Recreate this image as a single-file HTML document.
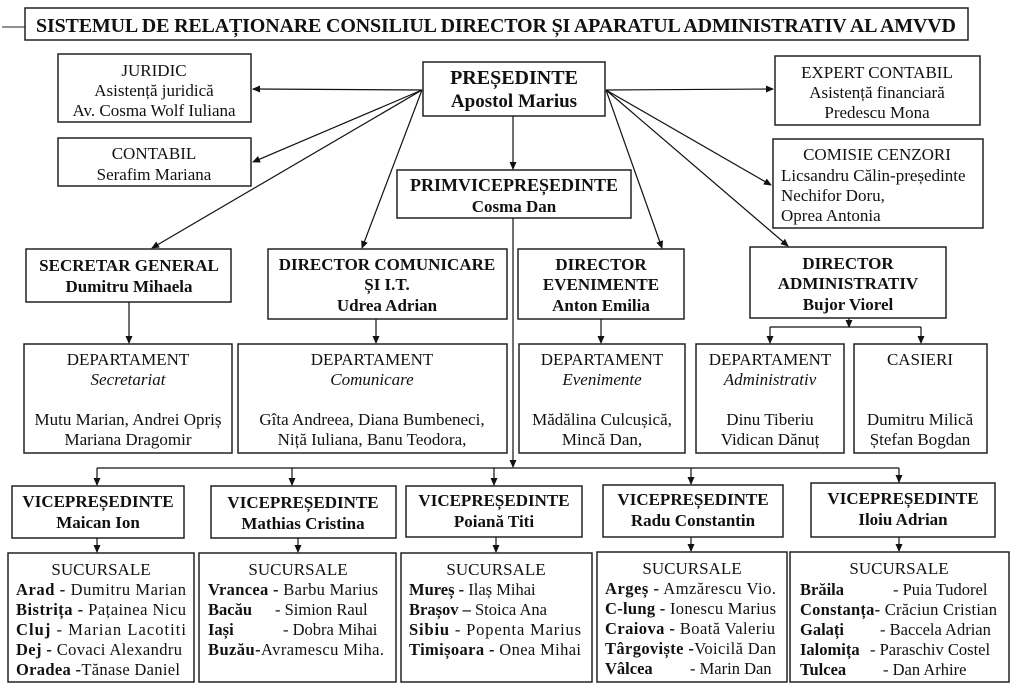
<!DOCTYPE html>
<html><head><meta charset="utf-8"><style>
body{margin:0;background:#fff;}
svg{display:block}
text{font-family:"Liberation Serif",serif;fill:#111;}
.b{font-weight:bold}
.s{font-family:"Liberation Sans",sans-serif}
</style></head><body>
<svg width="1024" height="690" viewBox="0 0 1024 690" xmlns="http://www.w3.org/2000/svg">
<defs><marker id="a" markerWidth="8" markerHeight="8" refX="7" refY="4" orient="auto" markerUnits="userSpaceOnUse"><path d="M0,0.5 L8,4 L0,7.5 z" fill="#111"/></marker></defs>
<g fill="none" stroke="#222" stroke-width="1.5">
<line x1="2" y1="27" x2="25" y2="27" stroke-width="1"/>
<rect x="25" y="8" width="943" height="32"/>
<rect x="58" y="54" width="193" height="68"/>
<rect x="58" y="138" width="193" height="48"/>
<rect x="423" y="62" width="182" height="54"/>
<rect x="775" y="56" width="205" height="69"/>
<rect x="773" y="139" width="210" height="89"/>
<rect x="397" y="170" width="234" height="48"/>
<rect x="26" y="249" width="205" height="53"/>
<rect x="268" y="249" width="239" height="70"/>
<rect x="518" y="249" width="166" height="70"/>
<rect x="750" y="247" width="196" height="71"/>
<rect x="24" y="344" width="208" height="109"/>
<rect x="238" y="344" width="269" height="109"/>
<rect x="519" y="344" width="166" height="109"/>
<rect x="696" y="344" width="148" height="109"/>
<rect x="854" y="344" width="133" height="109"/>
<rect x="12" y="486" width="172" height="52"/>
<rect x="211" y="486" width="185" height="52"/>
<rect x="406" y="486" width="176" height="51"/>
<rect x="603" y="485" width="180" height="52"/>
<rect x="811" y="483" width="184" height="54"/>
<rect x="8" y="553" width="186" height="129"/>
<rect x="199" y="553" width="197" height="129"/>
<rect x="401" y="553" width="191" height="129"/>
<rect x="597" y="552" width="190" height="130"/>
<rect x="790" y="552" width="219" height="130"/>
</g>
<g stroke="#111" stroke-width="1.2" fill="none" marker-end="url(#a)">
<line x1="422" y1="90" x2="253" y2="89"/>
<line x1="422" y1="90" x2="253" y2="162"/>
<line x1="422" y1="90" x2="152" y2="248"/>
<line x1="422" y1="90" x2="362" y2="248"/>
<line x1="606" y1="90" x2="773" y2="89"/>
<line x1="606" y1="90" x2="771" y2="185"/>
<line x1="606" y1="90" x2="662" y2="248"/>
<line x1="606" y1="90" x2="788" y2="246"/>
<line x1="513" y1="116" x2="513" y2="169"/>
<line x1="513" y1="218" x2="513" y2="467"/>
<line x1="129" y1="302" x2="129" y2="343"/>
<line x1="376" y1="319" x2="376" y2="343"/>
<line x1="601" y1="319" x2="601" y2="343"/>
<line x1="849" y1="318" x2="849" y2="327"/>
<line x1="770" y1="327" x2="770" y2="343"/>
<line x1="921" y1="327" x2="921" y2="343"/>
<line x1="97" y1="468" x2="97" y2="485"/>
<line x1="292" y1="468" x2="292" y2="485"/>
<line x1="494" y1="468" x2="494" y2="485"/>
<line x1="691" y1="468" x2="691" y2="484"/>
<line x1="899" y1="468" x2="899" y2="482"/>
<line x1="97" y1="538" x2="97" y2="552"/>
<line x1="298" y1="538" x2="298" y2="552"/>
<line x1="496" y1="537" x2="496" y2="552"/>
<line x1="691" y1="537" x2="691" y2="551"/>
<line x1="899" y1="537" x2="899" y2="551"/>
</g>
<g stroke="#111" stroke-width="1.2">
<line x1="770" y1="327" x2="921" y2="327"/>
<line x1="97" y1="468" x2="899" y2="468"/>
</g>
<text class="b" x="496" y="32" font-size="20" text-anchor="middle" textLength="920">SISTEMUL DE RELAȚIONARE CONSILIUL DIRECTOR ȘI APARATUL ADMINISTRATIV AL AMVVD</text>
<g font-size="17" text-anchor="middle">
<text x="154" y="76">JURIDIC</text><text x="154" y="96">Asistență juridică</text><text x="154" y="116">Av. Cosma Wolf Iuliana</text>
<text x="154" y="159">CONTABIL</text><text x="154" y="180">Serafim Mariana</text>
<text x="877" y="78">EXPERT CONTABIL</text><text x="877" y="98">Asistență financiară</text><text x="877" y="118">Predescu Mona</text>
<text x="877" y="160">COMISIE CENZORI</text>
<text x="781" y="181" text-anchor="start">Licsandru Călin-președinte</text>
<text x="781" y="201" text-anchor="start">Nechifor Doru,</text>
<text x="781" y="221" text-anchor="start">Oprea Antonia</text>
</g>
<g class="b" text-anchor="middle">
<text class="b" x="514" y="84" font-size="20">PREȘEDINTE</text><text class="b" x="514" y="107" font-size="19">Apostol Marius</text>
<text class="b" x="514" y="191" font-size="18">PRIMVICEPREȘEDINTE</text><text class="b" x="514" y="212" font-size="17">Cosma Dan</text>
<text class="b" x="129" y="271" font-size="17">SECRETAR GENERAL</text><text class="b" x="129" y="292" font-size="17">Dumitru Mihaela</text>
<text class="b" x="387" y="270" font-size="17">DIRECTOR COMUNICARE</text><text class="b" x="387" y="290" font-size="17">ȘI I.T.</text><text class="b" x="387" y="311" font-size="17">Udrea Adrian</text>
<text class="b" x="601" y="270" font-size="17">DIRECTOR</text><text class="b" x="601" y="290" font-size="17">EVENIMENTE</text><text class="b" x="601" y="311" font-size="17">Anton Emilia</text>
<text class="b" x="848" y="269" font-size="17">DIRECTOR</text><text class="b" x="848" y="289" font-size="17">ADMINISTRATIV</text><text class="b" x="848" y="310" font-size="17">Bujor Viorel</text>
</g>
<g font-size="17" text-anchor="middle">
<text x="128" y="365">DEPARTAMENT</text><text x="128" y="385" font-style="italic">Secretariat</text><text x="128" y="425">Mutu Marian, Andrei Opriș</text><text x="128" y="445">Mariana Dragomir</text>
<text x="372" y="365">DEPARTAMENT</text><text x="372" y="385" font-style="italic">Comunicare</text><text x="372" y="425">Gîta Andreea, Diana Bumbeneci,</text><text x="372" y="445">Niță Iuliana, Banu Teodora,</text>
<text x="602" y="365">DEPARTAMENT</text><text x="602" y="385" font-style="italic">Evenimente</text><text x="602" y="425">Mădălina Culcușică,</text><text x="602" y="445">Mincă Dan,</text>
<text x="770" y="365">DEPARTAMENT</text><text x="770" y="385" font-style="italic">Administrativ</text><text x="770" y="425">Dinu Tiberiu</text><text x="770" y="445">Vidican Dănuț</text>
<text x="920" y="365">CASIERI</text><text x="920" y="425">Dumitru Milică</text><text x="920" y="445">Ștefan Bogdan</text>
</g>
<g text-anchor="middle" font-size="17">
<text class="b" x="98" y="507">VICEPREȘEDINTE</text><text class="b" x="98" y="528">Maican Ion</text>
<text class="b" x="303" y="508">VICEPREȘEDINTE</text><text class="b" x="303" y="529">Mathias Cristina</text>
<text class="b" x="494" y="506">VICEPREȘEDINTE</text><text class="b" x="494" y="527">Poiană Titi</text>
<text class="b" x="693" y="505">VICEPREȘEDINTE</text><text class="b" x="693" y="526">Radu Constantin</text>
<text class="b" x="903" y="504">VICEPREȘEDINTE</text><text class="b" x="903" y="525">Iloiu Adrian</text>
<text x="101" y="575">SUCURSALE</text><text x="298" y="575">SUCURSALE</text><text x="496" y="575">SUCURSALE</text><text x="692" y="574">SUCURSALE</text><text x="899" y="574">SUCURSALE</text>
</g>
<g font-size="16.5">
<text x="16" y="595" textLength="170"><tspan class="b">Arad -</tspan> Dumitru Marian</text>
<text x="16" y="615" textLength="170"><tspan class="b">Bistrița -</tspan> Pațainea Nicu</text>
<text x="16" y="635" textLength="170"><tspan class="b">Cluj</tspan>    - Marian Lacotiti</text>
<text x="16" y="655" textLength="166"><tspan class="b">Dej -</tspan> Covaci Alexandru</text>
<text x="16" y="675" textLength="164"><tspan class="b">Oradea -</tspan>Tănase Daniel</text>
<text x="208" y="595" textLength="170"><tspan class="b">Vrancea -</tspan> Barbu Marius</text>
<text x="208" y="615"><tspan class="b">Bacău</tspan><tspan x="275">- Simion Raul</tspan></text>
<text x="208" y="635"><tspan class="b">Iași</tspan><tspan x="283">- Dobra Mihai</tspan></text>
<text x="208" y="655" textLength="176"><tspan class="b">Buzău-</tspan>Avramescu Miha.</text>
<text x="409" y="595"><tspan class="b">Mureș -</tspan> Ilaș Mihai</text>
<text x="409" y="615"><tspan class="b">Brașov –</tspan> Stoica Ana</text>
<text x="409" y="635" textLength="172"><tspan class="b">Sibiu</tspan>   - Popenta Marius</text>
<text x="409" y="655" textLength="172"><tspan class="b">Timișoara -</tspan> Onea Mihai</text>
<text x="605" y="594" textLength="171"><tspan class="b">Argeș -</tspan> Amzărescu Vio.</text>
<text x="605" y="614" textLength="171"><tspan class="b">C-lung -</tspan> Ionescu Marius</text>
<text x="605" y="634" textLength="170"><tspan class="b">Craiova -</tspan> Boată Valeriu</text>
<text x="605" y="654" textLength="171"><tspan class="b">Târgoviște -</tspan>Voicilă Dan</text>
<text x="605" y="674"><tspan class="b">Vâlcea</tspan><tspan x="690">- Marin Dan</tspan></text>
<text x="800" y="595"><tspan class="b">Brăila</tspan><tspan x="893">- Puia Tudorel</tspan></text>
<text x="800" y="615" textLength="197"><tspan class="b">Constanța-</tspan> Crăciun Cristian</text>
<text x="800" y="635"><tspan class="b">Galați</tspan><tspan x="880">- Baccela Adrian</tspan></text>
<text x="800" y="655"><tspan class="b">Ialomița</tspan><tspan x="870">- Paraschiv Costel</tspan></text>
<text x="800" y="675"><tspan class="b">Tulcea</tspan><tspan x="883">- Dan Arhire</tspan></text>
</g>
</svg>
</body></html>
